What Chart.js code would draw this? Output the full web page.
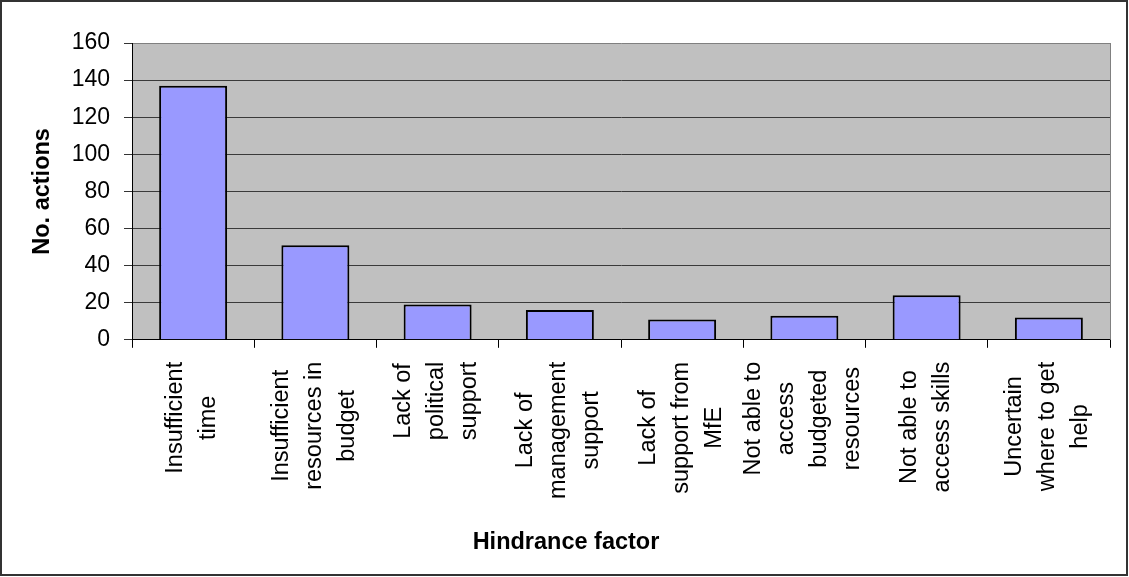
<!DOCTYPE html>
<html>
<head>
<meta charset="utf-8">
<title>Hindrance factors</title>
<script src="https://cdn.jsdelivr.net/npm/chart.js@4.4.1/dist/chart.umd.min.js"></script>
<style>
  html, body { margin: 0; padding: 0; background: #fff; }
  #wrap { position: relative; width: 1129px; height: 577px; }
</style>
</head>
<body>
<div id="wrap"><canvas id="hindranceChart"></canvas></div>
<script>
// Hindrance factors, wrapped the way they sit under the axis
const hindranceFactors = [
    ["Insufficient", "time"],
    ["Insufficient", "resources in", "budget"],
    ["Lack of", "political", "support"],
    ["Lack of", "management", "support"],
    ["Lack of", "support from", "MfE"],
    ["Not able to", "access", "budgeted", "resources"],
    ["Not able to", "access skills"],
    ["Uncertain", "where to get", "help"]
];

// Number of actions held back by each factor
const actionCounts = [137, 51, 19, 16, 11, 13, 24, 12];

// Value axis: 0 to 160 in steps of 20
const yTickValues = [0, 20, 40, 60, 80, 100, 120, 140, 160];

const fontFamily = '"Liberation Sans", Arial, sans-serif';
Chart.defaults.font.family = fontFamily;
Chart.defaults.color = '#000';

// Grey plot background, plot edge and the outer frame
const plotFrame = {
    id: 'plotFrame',
    beforeDraw(chart) {
        const {ctx, chartArea: a} = chart;
        ctx.save();
        ctx.fillStyle = '#ffffff';
        ctx.fillRect(0, 0, chart.width, chart.height);
        ctx.fillStyle = '#c0c0c0';
        ctx.fillRect(a.left, a.top, a.right - a.left, a.bottom - a.top);
        ctx.restore();
    },
    afterDraw(chart) {
        const {ctx, chartArea: a} = chart;
        ctx.save();
        ctx.strokeStyle = '#808080';
        ctx.lineWidth = 1;
        ctx.beginPath();
        ctx.moveTo(Math.round(a.right) + 0.5, a.top);
        ctx.lineTo(Math.round(a.right) + 0.5, a.bottom);
        ctx.stroke();
        ctx.strokeStyle = '#333';
        ctx.lineWidth = 2;
        ctx.strokeRect(1, 1, chart.width - 3, chart.height - 3);
        ctx.restore();
    }
};

// Category names, rotated and centred line by line under each bar
const wrappedLabels = {
    id: 'wrappedLabels',
    afterDraw(chart) {
        const xAxis = chart.scales.x;
        const ctx = chart.ctx;
        const pitch = 33;
        ctx.save();
        ctx.font = '23.5px ' + fontFamily;
        ctx.fillStyle = '#000';
        ctx.textAlign = 'center';
        ctx.textBaseline = 'middle';
        chart.data.labels.forEach(function (lines, i) {
            const widest = Math.max.apply(null, lines.map(t => ctx.measureText(t).width));
            const cx = xAxis.getPixelForValue(i) - 1;
            const cy = xAxis.top + 22 + widest / 2;
            ctx.save();
            ctx.translate(cx, cy);
            ctx.rotate(-Math.PI / 2);
            lines.forEach(function (t, j) {
                ctx.fillText(t, 0, (j - (lines.length - 1) / 2) * pitch);
            });
            ctx.restore();
        });
        ctx.restore();
    }
};

var ctx_hindrance = document.getElementById('hindranceChart').getContext('2d');
var hindranceChart = new Chart(ctx_hindrance, {
    type: 'bar',
    data: {
        labels: hindranceFactors,
        datasets: [{
            label: 'No. actions',
            data: actionCounts,
            backgroundColor: '#9999ff',
            borderColor: '#000',
            borderWidth: 2,
            barPercentage: 0.556,
            categoryPercentage: 1
        }]
    },
    options: {
        responsive: true,
        maintainAspectRatio: false,
        animation: false,
        layout: {
            padding: { top: 43, right: 19, bottom: 0, left: 22 }
        },
        scales: {
            x: {
                offset: true,
                grid: {
                    offset: true,
                    drawOnChartArea: false,
                    drawTicks: true,
                    tickLength: 8,
                    color: '#000'
                },
                border: { color: '#000', width: 1 },
                ticks: { display: false },
                afterFit: function (axis) { axis.height = 170; }
            },
            y: {
                min: yTickValues[0],
                max: yTickValues[yTickValues.length - 1],
                afterBuildTicks: function (axis) {
                    axis.ticks = yTickValues.map(v => ({ value: v }));
                },
                grid: {
                    color: c => (c.tick && c.tick.value === yTickValues[yTickValues.length - 1]) ? '#808080' : '#3a3a3a',
                    tickColor: '#333',
                    tickLength: 8,
                    lineWidth: 1
                },
                border: { color: '#000', width: 1 },
                ticks: {
                    font: { size: 23 },
                    color: '#000',
                    padding: 14
                },
                title: {
                    display: true,
                    text: 'No. actions',
                    font: { size: 23.5, weight: 'bold' },
                    color: '#000',
                    padding: { top: 6, bottom: 0 }
                },
                afterFit: function (axis) { axis.width = 110; }
            }
        },
        plugins: {
            legend: { display: false },
            tooltip: { enabled: false },
            title: {
                display: true,
                position: 'bottom',
                text: 'Hindrance factor',
                color: '#000',
                font: { size: 23.5, weight: 'bold' },
                padding: { top: 19, bottom: 20 }
            }
        }
    },
    plugins: [plotFrame, wrappedLabels]
});
</script>
</body>
</html>
